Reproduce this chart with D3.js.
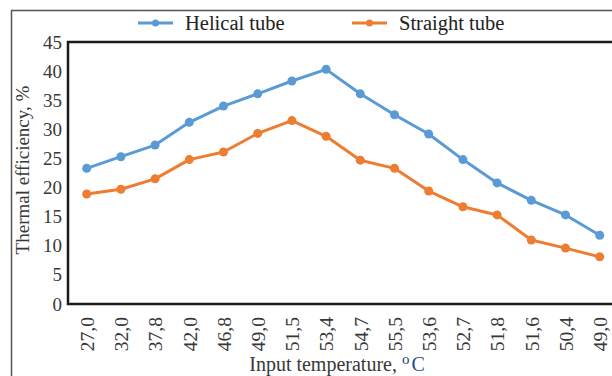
<!DOCTYPE html>
<html>
<head>
<meta charset="utf-8">
<script src="https://cdn.jsdelivr.net/npm/d3@7"></script>
<style>
  body { margin: 0; background: #fff; }
  svg { display: block; }
</style>
</head>
<body>
<div id="chart"></div>
<script>
const temps = ["27,0", "32,0", "37,8", "42,0", "46,8", "49,0", "51,5", "53,4",
  "54,7", "55,5", "53,6", "52,7", "51,8", "51,6", "50,4", "49,0"];
const helical = [23.3, 25.3, 27.3, 31.2, 34.0, 36.1, 38.3, 40.3,
  36.1, 32.5, 29.2, 24.8, 20.8, 17.8, 15.3, 11.8];
const straight = [18.9, 19.7, 21.5, 24.8, 26.1, 29.3, 31.5, 28.8,
  24.7, 23.3, 19.4, 16.7, 15.3, 11.0, 9.6, 8.1];
const yTicks = [0, 5, 10, 15, 20, 25, 30, 35, 40, 45];

const W = 612, H = 376;
const margin = { top: 42, right: -1, bottom: 72, left: 68 };
const width = W - margin.left - margin.right,
  height = H - margin.top - margin.bottom;

const svg = d3.select("#chart").append("svg")
  .attr("width", W).attr("height", H);

// outer frame (right/bottom cropped away in the source)
svg.append("rect")
  .attr("x", 11.5).attr("y", 10.5)
  .attr("width", 700).attr("height", 400)
  .attr("fill", "none").attr("stroke", "#555").attr("stroke-width", 1.5);

const g = svg.append("g")
  .attr("transform", "translate(" + margin.left + "," + margin.top + ")");

// temperatures repeat (49,0), so the scale works on the index
const idx = d3.range(temps.length);
const xScale = d3.scalePoint()
  .domain(idx)
  .range([18.7, width - 13.3]);
const yScale = d3.scaleLinear().domain([0, 45]).range([height, 0]);

// y axis labels
const yAxis = g.append("g")
  .call(d3.axisLeft(yScale).tickValues(yTicks).tickSize(0).tickPadding(6));
yAxis.select(".domain").remove();
yAxis.selectAll("text")
  .attr("font-family", "Liberation Serif")
  .attr("font-size", 19)
  .attr("fill", "#383838");

// x axis labels
const xAxis = g.append("g")
  .attr("transform", "translate(0," + height + ")")
  .call(d3.axisBottom(xScale).tickSize(0).tickFormat(function (i) { return temps[i]; }));
xAxis.select(".domain").remove();
xAxis.selectAll("text")
  .attr("font-family", "Liberation Serif")
  .attr("font-size", 19.5)
  .attr("fill", "#383838")
  .attr("transform", "rotate(-90)")
  .attr("text-anchor", "end")
  .attr("x", -13)
  .attr("y", 0)
  .attr("dy", "0.35em");

// plot box
g.append("rect")
  .attr("x", 0).attr("y", 0)
  .attr("width", width + 2).attr("height", height)
  .attr("fill", "none").attr("stroke", "#1a1a1a").attr("stroke-width", 2.5);

const series = [
  { name: "Helical tube", values: helical, color: "#5B9BD5" },
  { name: "Straight tube", values: straight, color: "#ED7D31" }
];

const line = d3.line()
  .x(function (d, i) { return xScale(i); })
  .y(function (d) { return yScale(d); });

series.forEach(function (s) {
  g.append("path")
    .datum(s.values)
    .attr("d", line)
    .attr("fill", "none")
    .attr("stroke", s.color)
    .attr("stroke-width", 3)
    .attr("stroke-linejoin", "round");
  g.selectAll(null)
    .data(s.values)
    .enter()
    .append("circle")
    .attr("cx", function (d, i) { return xScale(i); })
    .attr("cy", function (d) { return yScale(d); })
    .attr("r", 4.5)
    .attr("fill", s.color);
});

// legend
const legendX = [138, 352];
series.forEach(function (s, i) {
  const lg = svg.append("g").attr("transform", "translate(" + legendX[i] + ",23)");
  lg.append("line")
    .attr("x1", 0).attr("x2", 35)
    .attr("stroke", s.color).attr("stroke-width", 3);
  lg.append("circle").attr("cx", 17.5).attr("r", 3.5).attr("fill", s.color);
  lg.append("text")
    .attr("x", 47).attr("y", 0).attr("dy", "0.35em")
    .attr("font-family", "Liberation Serif")
    .attr("font-size", 20.5)
    .attr("fill", "#222")
    .text(s.name);
});

// axis titles
svg.append("text")
  .attr("transform", "translate(29," + (margin.top + height / 2 - 3) + ") rotate(-90)")
  .attr("text-anchor", "middle")
  .attr("font-family", "Liberation Serif")
  .attr("font-size", 19)
  .attr("fill", "#383838")
  .text("Thermal efficiency, %");

const xt = svg.append("text")
  .attr("x", 337).attr("y", 371)
  .attr("text-anchor", "middle")
  .attr("font-family", "Liberation Serif")
  .attr("font-size", 20)
  .attr("fill", "#383838");
xt.append("tspan").text("Input temperature, ");
xt.append("tspan").attr("dy", -7).attr("font-size", 15).attr("fill", "#2a3f6a").text("o");
xt.append("tspan").attr("dy", 7).attr("dx", 2).attr("fill", "#2a4a8a").text("C");
</script>
</body>
</html>
